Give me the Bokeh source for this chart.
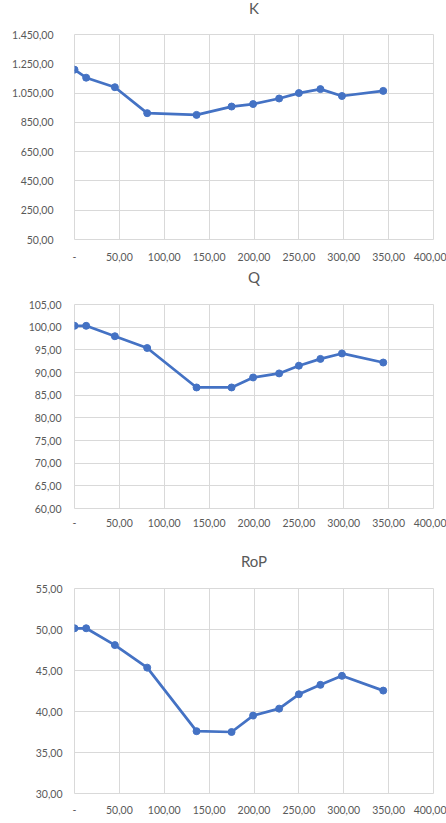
from bokeh.plotting import figure
from bokeh.layouts import column
from bokeh.models import Range1d, FixedTicker, Title
from bokeh.embed import file_html
from bokeh.resources import INLINE

# ---- data ----
x_vals = [0, 13, 45, 81, 136, 175, 199, 228, 250, 274, 298, 344]
k_vals = [1210, 1155, 1090, 913, 901, 958, 975, 1013, 1050, 1077, 1030, 1065]
q_vals = [100.3, 100.3, 98.0, 95.4, 86.7, 86.7, 88.9, 89.8, 91.5, 93.0, 94.2, 92.2]
rop_vals = [50.15, 50.15, 48.1, 45.35, 37.6, 37.5, 39.5, 40.35, 42.1, 43.25, 44.35, 42.55]

x_ticks = [0, 50, 100, 150, 200, 250, 300, 350, 400]
x_labels = ["-", "50,00", "100,00", "150,00", "200,00", "250,00", "300,00", "350,00", "400,00"]

k_ticks = [50, 250, 450, 650, 850, 1050, 1250, 1450]
k_labels = ["50,00", "250,00", "450,00", "650,00", "850,00", "1.050,00", "1.250,00", "1.450,00"]

q_ticks = [60, 65, 70, 75, 80, 85, 90, 95, 100, 105]
q_labels = ["60,00", "65,00", "70,00", "75,00", "80,00", "85,00", "90,00", "95,00", "100,00", "105,00"]

rop_ticks = [30, 35, 40, 45, 50, 55]
rop_labels = ["30,00", "35,00", "40,00", "45,00", "50,00", "55,00"]

LINE = "#4472C4"
GRID = "#d9d9d9"
TXT = "#595959"
FONT = "Lato"


def make(title, yvals, yticks, ylabels, height, left, bottom, ystand, xstand, gap, tstand):
    p = figure(width=446, height=height, output_backend="svg", toolbar_location=None,
               x_range=Range1d(0, 400), y_range=Range1d(yticks[0], yticks[-1]),
               min_border_left=left, min_border_right=13,
               min_border_top=0, min_border_bottom=bottom)
    p.outline_line_color = GRID
    p.background_fill_color = "white"
    p.border_fill_color = "white"

    # spacer between title and plot area (closest to the frame), then the title
    p.add_layout(Title(text=" ", text_font_size="1px", standoff=gap), "above")
    p.add_layout(Title(text=title, align="center", text_font=FONT, text_font_size="15px",
                       text_font_style="normal", text_color=TXT, standoff=tstand), "above")

    p.xaxis.ticker = FixedTicker(ticks=x_ticks)
    p.xaxis.major_label_overrides = {t: l for t, l in zip(x_ticks, x_labels)}
    p.yaxis.ticker = FixedTicker(ticks=yticks)
    p.yaxis.major_label_overrides = {t: l for t, l in zip(yticks, ylabels)}
    for ax in (p.xaxis, p.yaxis):
        ax.axis_line_color = None
        ax.major_tick_line_color = None
        ax.minor_tick_line_color = None
        ax.major_tick_in = 0
        ax.major_tick_out = 0
        ax.minor_tick_in = 0
        ax.minor_tick_out = 0
        ax.major_label_text_font = FONT
        ax.major_label_text_font_size = "10.5px"
        ax.major_label_text_color = TXT
    p.xaxis.major_label_standoff = xstand
    p.yaxis.major_label_standoff = ystand
    p.xgrid.grid_line_color = GRID
    p.ygrid.grid_line_color = GRID

    p.line(x_vals, yvals, line_color=LINE, line_width=2.75)
    p.scatter(x_vals, yvals, size=7, fill_color=LINE, line_color=LINE)
    return p


pk = make("K", k_vals, k_ticks, k_labels, 264, 74, 25, 21, 13, 18, -7)
pq = make("Q", q_vals, q_ticks, q_labels, 276, 66, 32, 13, 10, 14, 3)
pr = make("RoP", rop_vals, rop_ticks, rop_labels, 283, 60, 30, 12, 12, 7, 18)

layout = column(pk, pq, pr, spacing=0)
open("out.html", "w").write(file_html(layout, INLINE))
